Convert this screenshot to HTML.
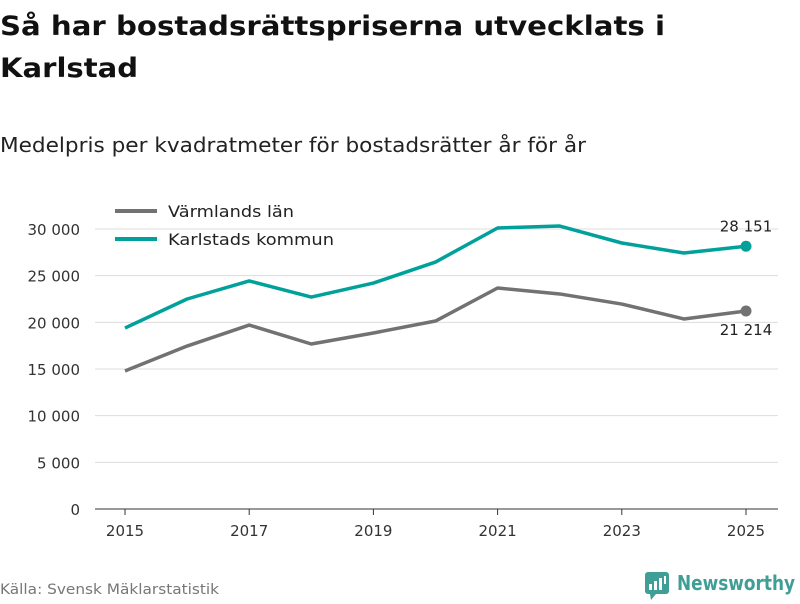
<!DOCTYPE html>
<html><head><meta charset="utf-8"><style>
body{margin:0;width:800px;height:600px;background:#fff;font-family:"DejaVu Sans","Liberation Sans",sans-serif;overflow:hidden}
</style></head><body>
<svg id="chart" width="800" height="600" xmlns="http://www.w3.org/2000/svg">
<text x="0" y="35" font-size="27" font-weight="bold" fill="#111" textLength="665" lengthAdjust="spacingAndGlyphs">Så har bostadsrättspriserna utvecklats i</text>
<text x="0" y="77" font-size="27" font-weight="bold" fill="#111" textLength="138" lengthAdjust="spacingAndGlyphs">Karlstad</text>
<text x="0" y="152" font-size="20" fill="#222" textLength="586" lengthAdjust="spacingAndGlyphs">Medelpris per kvadratmeter för bostadsrätter år för år</text>
<g id="grid"></g><g id="series"></g>
<g>
<line x1="115" y1="211" x2="157" y2="211" stroke="#727272" stroke-width="4"/>
<text x="168" y="217" font-size="16" fill="#222" textLength="126" lengthAdjust="spacingAndGlyphs">Värmlands län</text>
<line x1="115" y1="239" x2="157" y2="239" stroke="#00a19a" stroke-width="4"/>
<text x="168" y="245" font-size="16" fill="#222" textLength="166" lengthAdjust="spacingAndGlyphs">Karlstads kommun</text>
</g>
<text x="0" y="594" font-size="14" fill="#777" textLength="219" lengthAdjust="spacingAndGlyphs">Källa: Svensk Mäklarstatistik</text>
<g>
<rect x="645" y="572" width="24" height="22" rx="3" fill="#3f9e95"/>
<polygon points="650,594 656,594 651,600" fill="#3f9e95"/>
<rect x="649" y="584" width="3" height="6" fill="#fff"/><rect x="654" y="581" width="3" height="9" fill="#fff"/><rect x="659" y="578" width="3" height="12" fill="#fff"/><rect x="664" y="576" width="2" height="8" fill="#fff"/>
<text x="677" y="590" font-size="20" font-weight="bold" fill="#3f9e95" textLength="118" lengthAdjust="spacingAndGlyphs">Newsworthy</text>
</g>
</svg>
<script>
const years=[2015,2016,2017,2018,2019,2020,2021,2022,2023,2024,2025];
const varmland=[14790,17460,19710,17680,18860,20140,23680,23040,21960,20360,21214];
const karlstad=[19390,22500,24430,22710,24210,26460,30110,30320,28500,27430,28151];
const yTicks=[0,5000,10000,15000,20000,25000,30000];
const xTicks=[2015,2017,2019,2021,2023,2025];
const NS="http://www.w3.org/2000/svg";
const x=v=>125+(v-2015)*62.1;
const y=v=>509-v*280/30000;
const fmt=v=>v.toString().replace(/\B(?=(\d{3})+(?!\d))/g,"\u00a0");
function mk(t,a,p){const e=document.createElementNS(NS,t);for(const k in a)e.setAttribute(k,a[k]);p.appendChild(e);return e;}
const g=document.getElementById('grid'),s=document.getElementById('series');
yTicks.forEach(v=>{
 const l=mk('line',{x1:95,x2:778,y1:y(v),y2:y(v),stroke:v===0?'#333':'#ddd','stroke-width':1},g);
 
 
 const t=mk('text',{x:80,y:y(v)+6,'text-anchor':'end','font-size':15,fill:'#333'},g);t.textContent=fmt(v);
 
 
});
xTicks.forEach(v=>{
 const l=mk('line',{x1:x(v),x2:x(v),y1:509,y2:515,stroke:'#333'},g);
 
 
 const t=mk('text',{x:x(v),y:536,'text-anchor':'middle','font-size':15,fill:'#333'},g);t.textContent=v;
 
 
});
[[varmland,'#727272','varmland',1],[karlstad,'#00a19a','karlstad',-1]].forEach(([d,c,n,dir])=>{
 const p=mk('polyline',{points:d.map((v,i)=>x(years[i])+','+y(v)).join(' '),fill:'none',stroke:c,'stroke-width':3.5,'stroke-linejoin':'round'},s);
 
 
 const last=d.length-1;
 const dot=mk('circle',{cx:x(years[last]),cy:y(d[last]),r:5.5,fill:c},s);
 
 
 const t=mk('text',{x:x(years[last]),y:y(d[last])+(dir>0?24:-15),'text-anchor':'middle','font-size':15,fill:'#222'},s);t.textContent=fmt(d[last]);
 
 
});
</script>
</body></html>
